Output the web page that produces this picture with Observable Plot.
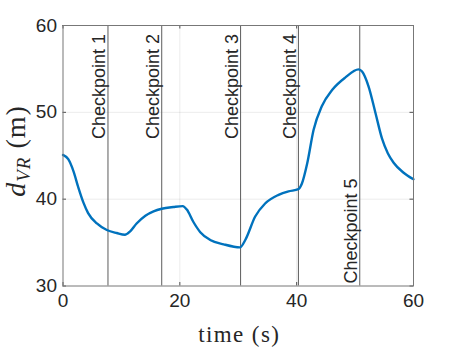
<!DOCTYPE html>
<html><head><meta charset="utf-8">
<script src="https://cdn.jsdelivr.net/npm/d3@7"></script>
<script src="https://cdn.jsdelivr.net/npm/@observablehq/plot@0.6"></script>
<style>body{margin:0;background:#fff}</style>
</head><body><div id="chart"></div>
<script>
const time = [0, 0.9, 1.8, 2.6, 3.5, 4.3, 5.8, 7.5, 9.2, 10.6, 11.5, 12.6, 14.1, 15.5, 16.9, 18.9, 20.5, 21.2, 22.3, 23.5, 25.2, 27.5, 30.3, 31.2, 32.9, 34.6, 36.9, 38.6, 40.3, 40.9, 41.8, 42.9, 44.3, 46.1, 48.3, 50.6, 51.2, 52.3, 53.5, 54.6, 55.6, 56.6, 58.2, 60];
const distance = [45.1, 44.6, 43.2, 41.4, 39.6, 38.4, 37.2, 36.45, 36.1, 35.9, 36.3, 37.2, 38.1, 38.6, 38.9, 39.1, 39.2, 38.8, 37.4, 36.2, 35.3, 34.8, 34.45, 35.3, 38.0, 39.5, 40.5, 40.9, 41.15, 41.8, 44.1, 48.0, 50.7, 52.6, 54.0, 54.95, 54.7, 53.0, 49.9, 47.0, 45.3, 44.2, 43.1, 42.3];
const checkpointTimes = [7.7, 16.9, 30.4, 40.3, 50.8];
const checkpointLabels = ["Checkpoint 1", "Checkpoint 2", "Checkpoint 3", "Checkpoint 4", "Checkpoint 5"];
const xTicks = [0, 20, 40, 60];
const yTicks = [30, 40, 50, 60];
const xGrid = [20, 40];
const yGrid = [40, 50];
const xLabel = "time (s)";

const series = time.map((t, i) => ({t, d: distance[i]}));
const cps = checkpointTimes.map((t, i) => ({t, label: checkpointLabels[i]}));

const W = 457, H = 350, ml = 62.5, mr = 44, mt = 25, mb = 64.5;
const innerH = H - mt - mb, innerW = W - ml - mr;
const tk = 3.5;
const sans = "'Liberation Sans', Arial, Helvetica, sans-serif";
const serif = "'Liberation Serif', 'Times New Roman', serif";

const svg = Plot.plot({
  width: W, height: H,
  marginLeft: ml, marginRight: mr, marginTop: mt, marginBottom: mb,
  x: {domain: [0, 60]},
  y: {domain: [30, 60]},
  style: {fontFamily: sans, color: "#262626", background: "#fff", overflow: "visible"},
  marks: [
    Plot.gridX(xGrid, {stroke: "#000", strokeOpacity: 0.08, strokeWidth: 1}),
    Plot.gridY(yGrid, {stroke: "#000", strokeOpacity: 0.08, strokeWidth: 1}),
    Plot.ruleX(cps, {x: "t", stroke: "#5c5c5c", strokeWidth: 1}),
    Plot.line(series, {x: "t", y: "d", stroke: "#0072BD", strokeWidth: 2.4, curve: "monotone-x"}),
    Plot.text(cps.slice(0, 4), {x: "t", text: "label", frameAnchor: "top", rotate: -90, textAnchor: "end", lineAnchor: "bottom", dx: -2.5, dy: 8.5, fontSize: 18, fill: "#262626"}),
    Plot.text(cps.slice(4), {x: "t", text: "label", frameAnchor: "bottom", rotate: -90, textAnchor: "start", lineAnchor: "bottom", dx: -2.5, dy: -2.5, fontSize: 18, fill: "#262626"}),
    Plot.ruleX(xTicks, {x: d => d, insetTop: innerH - tk, stroke: "#262626", strokeWidth: 0.8}),
    Plot.ruleX(xTicks, {x: d => d, insetBottom: innerH - tk, stroke: "#262626", strokeWidth: 0.8}),
    Plot.ruleY(yTicks, {y: d => d, insetRight: innerW - tk, stroke: "#262626", strokeWidth: 0.8}),
    Plot.ruleY(yTicks, {y: d => d, insetLeft: innerW - tk, stroke: "#262626", strokeWidth: 0.8}),
    Plot.frame({stroke: "#777", strokeWidth: 1}),
    Plot.axisX(xTicks, {tickSize: 0, tickPadding: 7, fontSize: 19, label: null, fill: "#262626"}),
    Plot.axisY(yTicks, {tickSize: 0, tickPadding: 6, fontSize: 19, label: null, fill: "#262626"}),
    Plot.text([xLabel], {frameAnchor: "bottom", text: d => d, dy: 56, lineAnchor: "bottom", fontFamily: serif, fontSize: 23, fill: "#262626", dx: 1})
  ]
});

const s = d3.select(svg);
s.selectAll("text").filter(function(){ return this.textContent === xLabel; }).style("letter-spacing", "1.4px");
const yl = s.append("text")
  .attr("transform", "translate(25,151) rotate(-90)")
  .attr("text-anchor", "middle")
  .attr("font-family", serif)
  .attr("font-size", 28)
  .attr("fill", "#262626")
  .style("letter-spacing", "1px");
yl.append("tspan").attr("font-style", "italic").text("d");
yl.append("tspan").attr("font-style", "italic").attr("font-size", 19).attr("dy", 5).text("VR");
yl.append("tspan").attr("dy", -5).text(" (m)");
document.getElementById("chart").appendChild(svg);
</script>
</body></html>
